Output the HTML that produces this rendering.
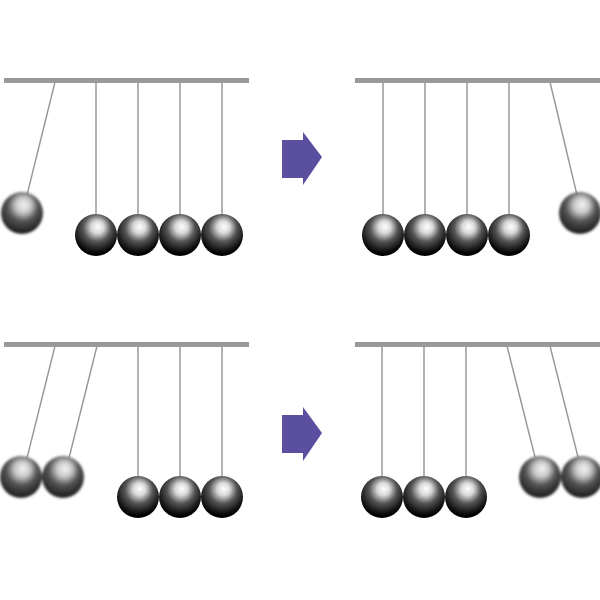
<!DOCTYPE html>
<html><head><style>html,body{margin:0;padding:0;background:#fff}svg{display:block}</style></head>
<body>
<svg width="600" height="600" viewBox="0 0 600 600" xmlns="http://www.w3.org/2000/svg">
<defs>
<radialGradient id="b" cx="0.5" cy="0.35" r="0.6" fx="0.55" fy="0.3">
<stop offset="0" stop-color="#ffffff"/>
<stop offset="0.25" stop-color="#d8d8d8"/>
<stop offset="0.55" stop-color="#555"/>
<stop offset="0.85" stop-color="#1a1a1a"/>
<stop offset="1" stop-color="#000"/>
</radialGradient>
<radialGradient id="s" cx="0.5" cy="0.35" r="0.6" fx="0.55" fy="0.3">
<stop offset="0" stop-color="#f4f4f4"/>
<stop offset="0.3" stop-color="#c8c8c8"/>
<stop offset="0.6" stop-color="#555"/>
<stop offset="1" stop-color="#222"/>
</radialGradient>
<filter id="bl"><feGaussianBlur stdDeviation="1.2"/></filter>
</defs>
<g stroke="#999" stroke-width="1.5">
<line x1="55" y1="82" x2="27" y2="195"/>
<line x1="96" y1="82" x2="96" y2="214"/>
<line x1="138" y1="82" x2="138" y2="214"/>
<line x1="180" y1="82" x2="180" y2="214"/>
<line x1="222" y1="82" x2="222" y2="214"/>
<line x1="383" y1="82" x2="383" y2="214"/>
<line x1="425" y1="82" x2="425" y2="214"/>
<line x1="467" y1="82" x2="467" y2="214"/>
<line x1="509" y1="82" x2="509" y2="214"/>
<line x1="550" y1="82" x2="577" y2="195"/>
<line x1="55" y1="346" x2="27" y2="458"/>
<line x1="97" y1="346" x2="69" y2="458"/>
<line x1="138" y1="346" x2="138" y2="476"/>
<line x1="180" y1="346" x2="180" y2="476"/>
<line x1="222" y1="346" x2="222" y2="476"/>
<line x1="382" y1="346" x2="382" y2="476"/>
<line x1="424" y1="346" x2="424" y2="476"/>
<line x1="466" y1="346" x2="466" y2="476"/>
<line x1="507" y1="346" x2="535" y2="457"/>
<line x1="550" y1="346" x2="578" y2="457"/>
</g>
<rect x="4" y="78" width="245" height="5" fill="#9a9a9a"/>
<rect x="355" y="78" width="245" height="5" fill="#9a9a9a"/>
<rect x="4" y="342" width="245" height="5" fill="#9a9a9a"/>
<rect x="355" y="342" width="245" height="5" fill="#9a9a9a"/>
<g fill="url(#b)">
<circle cx="96" cy="235" r="21"/><circle cx="138" cy="235" r="21"/><circle cx="180" cy="235" r="21"/><circle cx="222" cy="235" r="21"/>
<circle cx="383" cy="235" r="21"/><circle cx="425" cy="235" r="21"/><circle cx="467" cy="235" r="21"/><circle cx="509" cy="235" r="21"/>
<circle cx="138" cy="497" r="21"/><circle cx="180" cy="497" r="21"/><circle cx="222" cy="497" r="21"/>
<circle cx="382" cy="497" r="21"/><circle cx="424" cy="497" r="21"/><circle cx="466" cy="497" r="21"/>
</g>
<g fill="url(#s)" filter="url(#bl)">
<circle cx="22" cy="213" r="21"/>
<circle cx="580" cy="213" r="21"/>
<circle cx="21" cy="477" r="21"/><circle cx="63" cy="477" r="21"/>
<circle cx="540" cy="477" r="21"/><circle cx="582" cy="477" r="21"/>
</g>
<g fill="#5b4fa0">
<polygon points="282,140 303,140 303,132 322,157 303,185 303,178 282,178"/>
<polygon points="282,415 303,415 303,407 322,433 303,461 303,453 282,453"/>
</g>
</svg>
</body></html>
